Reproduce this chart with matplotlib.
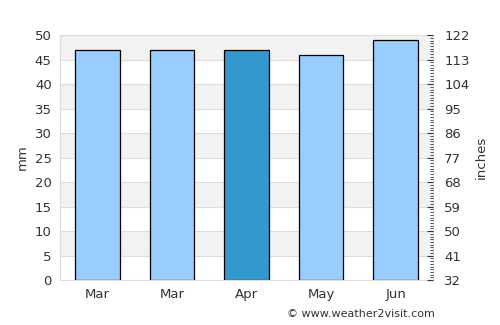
import numpy as np
import matplotlib
matplotlib.use("Agg")
import matplotlib.pyplot as plt
from matplotlib.ticker import MultipleLocator

months = ["Mar", "Mar", "Apr", "May", "Jun"]
rain_mm = [47, 47, 46.9, 46, 49]
highlight = [False, False, True, False, False]
right_labels = ["32", "41", "50", "59", "68", "77", "86", "95", "104", "113", "122"]

TEXT = "#333333"

fig = plt.figure(figsize=(5, 3.25), dpi=100)
ax = fig.add_axes([0.12, 0.138, 0.746, 0.754])

# alternating bands (5-10, 15-20, ... 45-50 gray)
for i in range(10):
    if i % 2 == 1:
        ax.axhspan(i * 5, i * 5 + 5, color="#f2f2f2", zorder=0, lw=0)
for y in range(5, 50, 5):
    ax.axhline(y, color="#dddddd", lw=0.8, zorder=0.5)

colors = ["#3399cc" if h else "#99ccff" for h in highlight]
x = np.arange(len(months))
ax.bar(x, rain_mm, width=0.6, color=colors, edgecolor="black", linewidth=0.9, zorder=2)

ax.set_xlim(-0.5, len(months) - 0.5)
ax.set_ylim(0, 50)
ax.set_xticks(x)
ax.set_xticklabels(months)
ax.yaxis.set_major_locator(MultipleLocator(5))
ax.tick_params(axis="both", length=0, colors=TEXT, labelsize=9.5, pad=6)
ax.set_ylabel("mm", color=TEXT, fontsize=9.5)
for s in ax.spines.values():
    s.set_color("#dddddd")
    s.set_linewidth(0.8)

ax2 = ax.twinx()
ax2.set_ylim(0, 50)
ax2.set_yticks(np.linspace(0, 50, len(right_labels)))
ax2.set_yticklabels(right_labels)
ax2.set_yticks(np.linspace(0, 50, 91), minor=True)
ax2.tick_params(axis="y", which="major", direction="in", length=4, width=0.8,
                colors=TEXT, labelsize=9.5, pad=8)
ax2.tick_params(axis="y", which="minor", direction="in", length=2.5, width=0.6,
                color="#333333")
ax2.set_ylabel("inches", color=TEXT, fontsize=9.5)
for s in ax2.spines.values():
    s.set_visible(False)

fig.text(0.87, 0.035, "© www.weather2visit.com", ha="right", va="center",
         color=TEXT, fontsize=8)

fig.savefig("out.png", dpi=100)
